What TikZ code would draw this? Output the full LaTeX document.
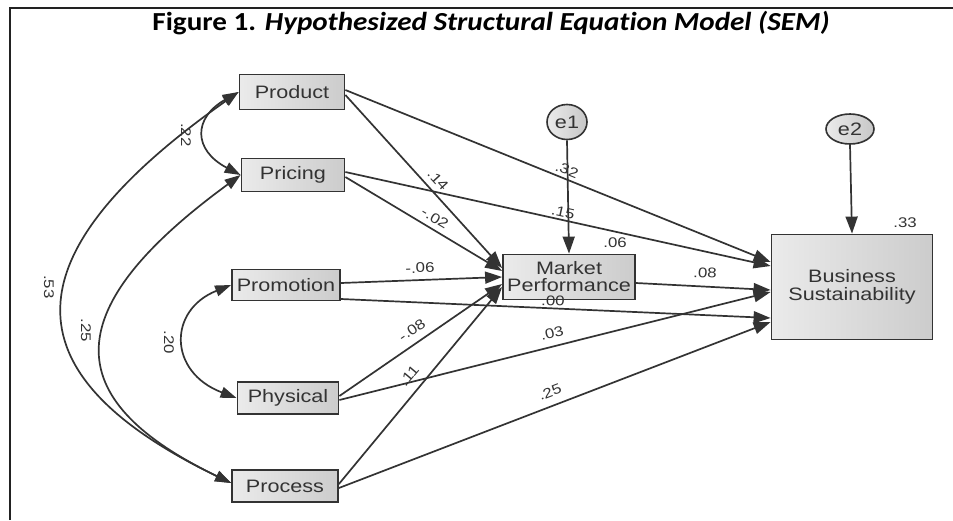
\documentclass[tikz,border=0pt]{standalone}
\usepackage{fontspec}
\setmainfont{Liberation Sans}
\newfontfamily\titlefont[Ligatures=NoCommon, FakeStretch=1.12]{Carlito}
\newfontfamily\nodefont[FakeStretch=1.2]{Liberation Sans}
\usetikzlibrary{arrows.meta,shapes.geometric,calc}
\definecolor{ink}{HTML}{333333}
\definecolor{frameink}{HTML}{222222}
\begin{document}
\begin{tikzpicture}[x=1pt,y=-1pt,
  var/.style={draw=ink, line width=1.8pt, left color=black!8, right color=black!20,
    inner sep=0pt, font=\nodefont\fontsize{18}{17}\selectfont, text=ink, align=center},
  err/.style={ellipse, draw=ink, line width=1.6pt, left color=black!8, right color=black!22,
    inner sep=0pt, font=\nodefont\fontsize{18}{18}\selectfont, text=ink},
  regpath/.style={draw=ink, line width=1.7pt, -{Triangle[length=17pt,width=12pt]}},
  cov/.style={draw=ink, line width=1.7pt,
    {Triangle[length=16pt,width=11pt]}-{Triangle[length=16pt,width=11pt]}},
  lbl/.style={font=\nodefont\fontsize{14}{15}\selectfont, text=ink, inner sep=0pt},
]
\useasboundingbox (0,0) rectangle (953,520);
\fill[white] (0,0) rectangle (953,520);
\draw[line width=2.5pt, frameink] (10,520) -- (10,8) -- (953,8);

\node[font=\titlefont\bfseries\fontsize{26}{28}\selectfont, text=black] (title) at (491,23)
  {Figure 1. \itshape Hypothesized Structural Equation Model (SEM)};

% observed variables
\node[var, minimum width=105pt, minimum height=35pt] (prod) at (292,92) {Product};
\node[var, minimum width=103pt, minimum height=33pt] (pric) at (293,175) {Pricing};
\node[var, minimum width=108pt, minimum height=31pt] (prom) at (286,285) {Promotion};
\node[var, minimum width=101pt, minimum height=32pt] (phys) at (288,398) {Physical};
\node[var, minimum width=106pt, minimum height=32pt] (proc) at (285,486) {Process};
\node[var, minimum width=132pt, minimum height=45pt] (mp) at (569,277) {Market\\Performance};
\node[var, minimum width=161pt, minimum height=105pt] (bs) at (852,287) {Business\\[1pt]Sustainability};
\node[err, minimum width=40pt, minimum height=35pt] (e1) at (567,122) {e1};
\node[err, minimum width=48pt, minimum height=30pt] (e2) at (850,129) {e2};

% regression paths
\draw[regpath] ($(prod.east)+(0,3)$) -- ($(mp.west)+(0,-9)$);
\draw[regpath] ($(prod.east)+(0,-2)$) -- ($(bs.west)+(0,-25)$);
\draw[regpath] ($(pric.east)+(0,2)$) -- ($(mp.west)+(0,-6)$);
\draw[regpath] ($(pric.east)+(0,-3)$) -- ($(bs.west)+(0,-21)$);
\draw[regpath] ($(prom.east)+(0,-2)$) -- ($(mp.west)+(0,0)$);
\draw[regpath] ($(prom.east)+(0,14)$) -- ($(bs.west)+(0,31)$);
\draw[regpath] ($(phys.east)+(0,-2)$) -- ($(mp.west)+(0,7)$);
\draw[regpath] ($(phys.east)+(0,2)$) -- ($(bs.west)+(0,5)$);
\draw[regpath] ($(proc.east)+(0,-2)$) -- ($(mp.west)+(0,10)$);
\draw[regpath] ($(proc.east)+(0,2)$) -- ($(bs.west)+(0,35)$);
\draw[regpath] ($(mp.east)+(0,6)$) -- ($(bs.west)+(0,3)$);
\draw[regpath] (e1.south) -- (mp.north);
\draw[regpath] (e2.south) -- (bs.north);

% covariances
\draw[cov] (prod.west) .. controls (193,118) and (193,150) .. (pric.west);
\draw[cov] (prom.west) .. controls (168,310) and (168,372) .. (phys.west);
\draw[cov] (prod.west) .. controls (10,253) and (3,373) .. ($(proc.west)+(0,-3)$);
\draw[cov] (pric.west) .. controls (60,307) and (55,398) .. ($(proc.west)+(0,-3)$);

% labels
\node[lbl, rotate=-90] (l22) at (186,135) {.22};
\node[lbl, rotate=-90] (l20) at (169,342) {.20};
\node[lbl, rotate=-90] (l53) at (49,287) {.53};
\node[lbl, rotate=-90] (l25a) at (86,330) {.25};
\node[lbl, rotate=-47.6] (l14) at (438,180) {.14};
\node[lbl, rotate=-30.7] (l02) at (435,218) {-.02};
\node[lbl, rotate=-22] (l32) at (567,170) {.32};
\node[lbl, rotate=-12.5] (l15) at (563,212) {.15};
\node[lbl, rotate=2] (l06a) at (420,268) {-.06};
\node[lbl, rotate=-2.4] (l00) at (553,301) {.00};
\node[lbl, rotate=34] (l08a) at (412,330) {-.08};
\node[lbl, rotate=14] (l03) at (552,333) {.03};
\node[lbl, rotate=50] (l11) at (409,376) {.11};
\node[lbl, rotate=21] (l25b) at (550,392) {.25};
\node[lbl, rotate=-3] (l08b) at (705,273) {.08};
\node[lbl] (l06b) at (615,243) {.06};
\node[lbl] (l33) at (905,223) {.33};
\end{tikzpicture}
\end{document}
